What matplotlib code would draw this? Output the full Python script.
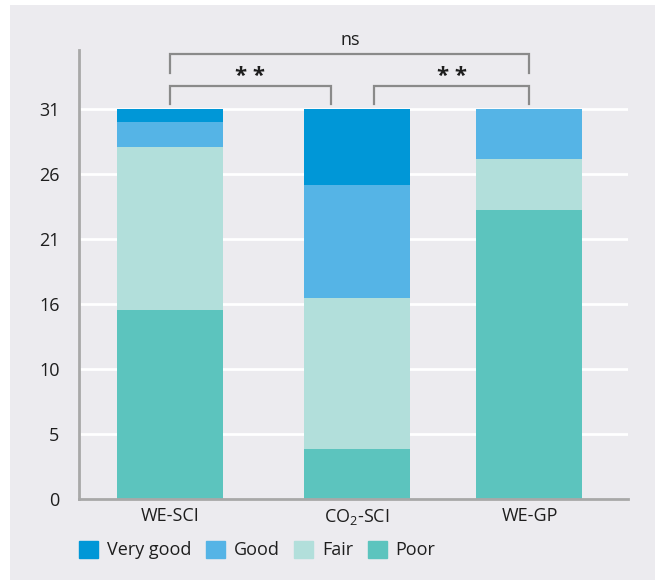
import matplotlib.pyplot as plt
import matplotlib.patches as mpatches
import numpy as np

plt.rcParams['font.family'] = ['Open Sans', 'DejaVu Sans']
plt.rcParams['mathtext.fontset'] = 'custom'
plt.rcParams['mathtext.rm'] = 'Open Sans'
plt.rcParams['mathtext.default'] = 'regular'

groups = ['WE-SCI', 'CO$_2$-SCI', 'WE-GP']
xpos = [0, 1.0, 1.922]
categories = ['Poor', 'Fair', 'Good', 'Very good']
poor = [15, 4, 23]
fair = [13, 12, 4]
good = [2, 9, 4]
very_good = [1, 6, 0]
tick_vals = [0, 5, 10, 16, 21, 26, 31]

colors = {'Poor': '#5cc4be', 'Fair': '#b2dfdb', 'Good': '#55b4e6', 'Very good': '#0097d7'}
bg = '#ecebef'

fig = plt.figure(figsize=(6.6, 5.85), dpi=100, facecolor='white')
fig.add_artist(mpatches.Rectangle((10/660, 5/585), 645/660, 575/585,
                                  transform=fig.transFigure, facecolor=bg,
                                  edgecolor='none', zorder=-10))
ax = fig.add_axes([79/660, 86/585, 549/660, 449/585])
ax.set_facecolor(bg)

ax.set_ylim(0, 35.7)
ax.set_xlim(-0.487, 2.449)
yt = np.linspace(0, 31, 7)
ax.set_yticks(yt)
ax.set_yticklabels([str(v) for v in tick_vals])
for y in yt[1:]:
    ax.axhline(y, color='white', lw=2, zorder=1)

series = {'Poor': poor, 'Fair': fair, 'Good': good, 'Very good': very_good}
bottom = np.zeros(3)
for c in categories:
    vals = np.array(series[c])
    ax.bar(xpos, vals, bottom=bottom, width=0.567, color=colors[c], zorder=2, label=c)
    bottom += vals

ax.set_xticks(xpos)
ax.set_xticklabels(groups)
ax.tick_params(length=0, labelsize=13, colors='#1e1e1e', pad=6)
ax.tick_params(axis='y', pad=14)
for s in ['top', 'right']:
    ax.spines[s].set_visible(False)
for s in ['left', 'bottom']:
    ax.spines[s].set_color('#a8a8a8')
    ax.spines[s].set_linewidth(2)

# significance brackets
bc = '#8a8a8a'
def bracket(x1, x2, ylo, yhi, label, ty, size=13, weight='normal'):
    ax.plot([x1, x1, x2, x2], [ylo, yhi, yhi, ylo], color=bc, lw=1.6,
            clip_on=False, zorder=3, solid_joinstyle='miter')
    ax.text((x1 + x2) / 2, ty, label, ha='center', va='center', fontsize=size,
            fontweight=weight, color='#1e1e1e', clip_on=False)

bracket(0, 1.922, 33.85, 35.35, 'ns', 36.5)
bracket(0, 0.86, 31.4, 32.85, '* *', 33.6, 16, 'bold')
bracket(1.09, 1.922, 31.4, 32.85, '* *', 33.6, 16, 'bold')

handles = [mpatches.Patch(color=colors[c]) for c in ['Very good', 'Good', 'Fair', 'Poor']]
ax.legend(handles, ['Very good', 'Good', 'Fair', 'Poor'], loc='upper left',
          bbox_to_anchor=(-0.0, -0.093), ncol=4, frameon=False, fontsize=13,
          handlelength=1.05, handleheight=1.05, handletextpad=0.5, columnspacing=0.8,
          borderaxespad=0, borderpad=0, labelcolor='#1e1e1e')

fig.savefig('out.png', dpi=100, facecolor='white')
